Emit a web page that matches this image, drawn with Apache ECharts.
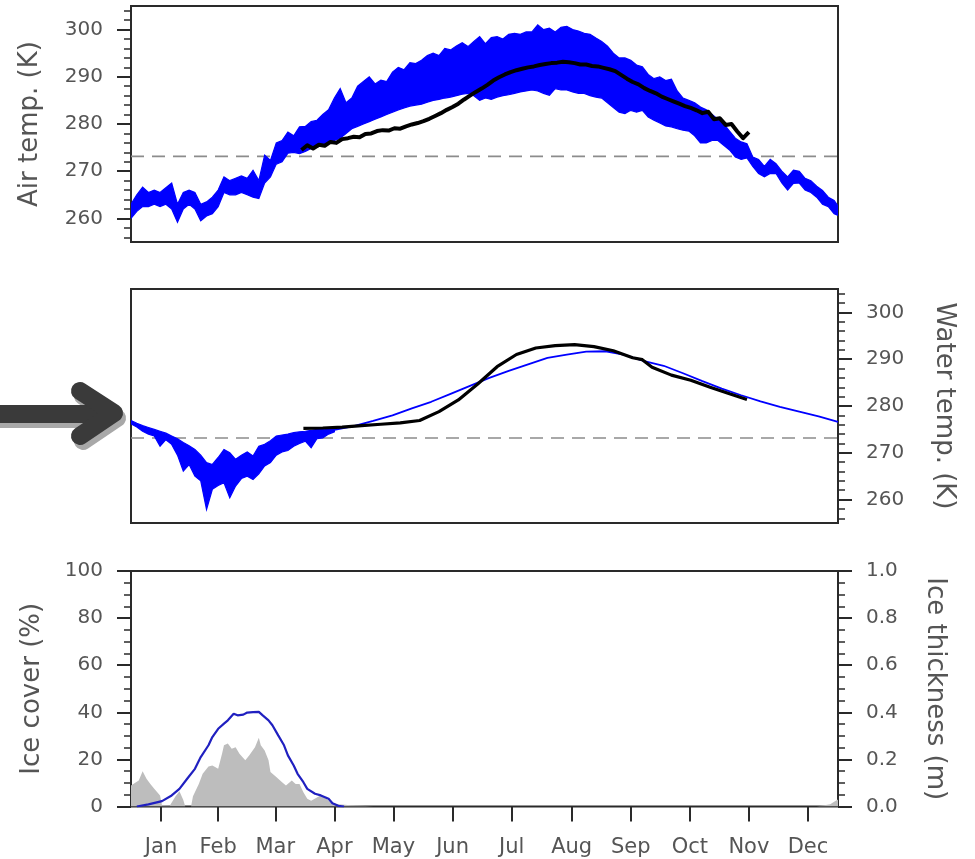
<!DOCTYPE html>
<html>
<head>
<meta charset="utf-8">
<script src="https://cdn.jsdelivr.net/npm/echarts@6/dist/echarts.min.js"></script>
<style>
  html, body { margin: 0; padding: 0; background: #fff; }
  #chart { width: 975px; height: 859px; }
</style>
</head>
<body>
<div id="chart"></div>
<script>
// ---- axis labels ----
const monthNames = ['Jan', 'Feb', 'Mar', 'Apr', 'May', 'Jun', 'Jul', 'Aug', 'Sep', 'Oct', 'Nov', 'Dec'];
const monthMidDays = [15.5, 45, 74.5, 105, 135.5, 166, 196.5, 227.5, 258, 288.5, 319, 349.5];
const tempTicks = [260, 270, 280, 290, 300];
const iceCoverTicks = [0, 20, 40, 60, 80, 100];
const iceThickTicks = [0, 0.2, 0.4, 0.6, 0.8, 1.0];
const freezingPoint = 273.15;

// ---- modelled air temperature: low / high of the sub-daily values, every 3 days from 1 Jan (K) ----
const airStep = 3;
const airModelLow = [
  260.0, 261.5, 262.5, 262.5, 263.0, 262.5, 263.0, 262.0, 259.2, 262.0,
  263.0, 262.0, 259.5, 260.5, 261.0, 262.5, 265.5, 265.0, 265.0, 265.5,
  265.0, 264.5, 264.2, 267.5, 268.8, 271.5, 272.0, 273.8, 274.0, 273.7,
  274.2, 274.8, 275.1, 275.5, 276.0, 276.5, 277.0, 278.0, 279.0, 279.5,
  280.0, 280.5, 281.0, 281.5, 282.0, 282.5, 283.0, 283.4, 283.8, 284.0,
  284.2, 284.6, 285.0, 285.2, 285.5, 285.7, 286.0, 286.3, 286.5, 286.0,
  285.0, 285.5, 285.2, 285.7, 286.0, 286.2, 286.5, 286.8, 287.0, 287.2,
  287.0, 286.5, 286.1, 287.5, 287.2, 287.2, 286.8, 286.5, 286.5, 286.0,
  285.7, 285.5, 284.5, 283.5, 282.5, 282.2, 282.9, 282.5, 282.9, 281.5,
  280.8, 280.2, 279.6, 279.4, 279.0, 278.7, 278.5, 277.5, 276.0, 276.0,
  276.5, 276.5, 275.5, 274.5, 273.0, 272.5, 272.8, 271.0, 269.5, 268.8,
  269.5, 269.5, 267.5, 266.0, 267.4, 267.5, 266.0, 265.5, 264.5, 263.0,
  262.5, 261.0, 260.5
];
const airModelHigh = [
  263.0, 265.0, 266.6, 265.5, 266.0, 265.5, 266.5, 267.5, 263.0, 265.5,
  266.0, 265.5, 263.0, 263.5, 264.5, 266.0, 268.8, 268.0, 268.5, 269.0,
  268.5, 270.2, 268.0, 273.4, 272.3, 276.0, 276.5, 278.3, 277.5, 279.4,
  279.5, 280.5, 280.8, 282.0, 283.0, 285.5, 287.5, 284.5, 285.5, 288.0,
  289.0, 290.0, 288.5, 289.3, 289.0, 291.0, 292.0, 291.5, 293.0, 292.8,
  293.5, 294.5, 295.0, 294.5, 296.0, 295.7, 296.5, 297.2, 296.4, 297.5,
  298.5, 297.0, 298.3, 298.5, 298.0, 299.0, 299.2, 299.0, 299.5, 299.5,
  301.0, 300.0, 300.3, 299.5, 300.5, 300.7, 300.0, 299.7, 299.2, 299.0,
  298.2, 297.5, 296.5, 295.0, 294.0, 294.0, 293.5, 292.5, 292.1, 290.5,
  289.6, 290.0, 289.2, 289.5, 287.0, 285.5, 285.0, 284.5, 283.6, 283.0,
  282.0, 281.0, 280.0, 278.5, 277.0, 276.2, 275.8, 273.0, 272.5, 271.0,
  272.5, 271.6, 270.0, 268.8, 270.2, 270.0, 268.5, 268.0, 266.8, 265.9,
  264.5, 263.8, 262.0
];

// ---- observed air temperature, every 3 days from day 88 (K) ----
const airObsStart = 88;
const airObs = [
  274.5, 275.5, 274.8, 275.6, 275.4, 276.2, 276.0, 276.8, 277.0, 277.3,
  277.2, 277.9, 278.0, 278.5, 278.7, 278.6, 279.1, 279.0, 279.5, 279.9,
  280.2, 280.6, 281.1, 281.7, 282.3, 283.0, 283.6, 284.3, 285.2, 286.0,
  286.8, 287.5, 288.3, 289.2, 289.9, 290.5, 291.0, 291.4, 291.7, 292.0,
  292.2, 292.5, 292.7, 292.9, 293.0, 293.2, 293.1, 292.9, 292.6, 292.6,
  292.3, 292.2, 291.9, 291.6, 291.2, 290.4, 289.6, 288.9, 288.4, 287.6,
  287.0, 286.5, 285.8, 285.3, 284.8, 284.3, 283.8, 283.4, 282.9, 282.3,
  282.6, 281.0, 281.2, 279.8, 280.0, 278.4, 277.0, 278.3
];

// ---- modelled lake surface temperature ----
// ice season: low / high every 3 days from 1 Jan (K)
const waterStep = 3;
const waterBandLow = [
  276.2, 275.5, 274.6, 274.0, 273.6, 271.4, 272.8, 271.8, 269.5, 266.1,
  267.5, 265.0, 264.0, 257.9, 262.2, 263.0, 263.6, 260.4, 262.9, 264.5,
  265.0, 264.3, 265.5, 267.2, 267.9, 269.5, 270.2, 270.5, 271.4, 272.0,
  272.5, 271.1, 273.0, 273.2, 274.0, 274.5
];
const waterBandHigh = [
  276.9, 276.3, 275.8, 275.4, 275.0, 274.6, 274.2, 273.6, 273.0, 272.2,
  271.5, 270.7, 269.5, 267.9, 267.5, 269.0, 270.7, 270.0, 268.6, 269.5,
  270.2, 269.3, 271.4, 271.8, 272.6, 273.6, 273.8, 274.0, 274.3, 274.5,
  274.6, 274.8, 275.0, 275.0, 275.2, 275.4
];
// open water season
const waterModelDays = [105, 115, 125, 135, 145, 155, 165, 175, 185, 195, 205, 215, 225, 235,
  245, 255, 265, 275, 285, 295, 305, 315, 325, 335, 345, 355, 365];
const waterModel = [274.9, 275.7, 276.8, 278.0, 279.5, 280.9, 282.6, 284.3, 286.0, 287.5, 288.9,
  290.3, 291.0, 291.6, 291.7, 290.9, 289.6, 288.6, 287.0, 285.3, 283.7, 282.3, 281.0, 279.8,
  278.8, 277.8, 276.6];

// ---- observed lake surface temperature (K) ----
const waterObsDays = [89, 99, 109, 119, 129, 139, 149, 159, 169, 179, 189, 199, 209, 219, 229,
  239, 249, 259, 264, 269, 279, 289, 299, 309, 318];
const waterObs = [275.2, 275.3, 275.5, 275.8, 276.1, 276.4, 276.9, 278.8, 281.3, 284.7, 288.4,
  291.0, 292.4, 292.9, 293.1, 292.7, 291.8, 290.3, 289.9, 288.3, 286.6, 285.5, 284.0, 282.6, 281.4];

// ---- ice ----
const iceCoverDays = [0, 4, 6, 8, 10, 12, 13, 15, 16, 17, 20, 23, 25, 27, 28, 31, 32, 35, 37, 40,
  42, 45, 47, 48, 50, 52, 54, 56, 59, 61, 64, 66, 67, 69, 71, 72, 75, 78, 80, 83,
  85, 87, 89, 91, 93, 96, 98, 101, 103, 107, 112, 119, 125, 354, 358, 361, 363, 365];
const iceCover = [8.9, 11, 15, 11.8, 9.6, 7.5, 8.2, 4.7, 0.5, 0, 0.3, 4.3, 6.5, 2.8, 0, 0, 4.3, 9.6, 13.9, 17,
  17.4, 16, 22.4, 26, 26.7, 24.5, 25.2, 22.4, 19.6, 21.7, 25.2, 29.2, 26, 23.8, 19.6, 14.6, 12.5, 10.3, 8.9, 11,
  9.6, 9.6, 6.1, 3.3, 2.4, 3.8, 4.8, 3.3, 1.7, 1, 0.6, 0.3, 0, 0, 0.5, 1, 2, 3];
const iceThickDays = [3, 9, 16, 21, 25, 29, 33, 36, 40, 42, 45, 48, 50, 53, 55, 58, 60, 63, 66,
  68, 71, 73, 76, 79, 81, 84, 86, 89, 91, 95, 98, 102, 104, 107, 110];
const iceThickness = [0, 0.009, 0.023, 0.047, 0.075, 0.118, 0.16, 0.21, 0.26, 0.295, 0.33, 0.352,
  0.366, 0.394, 0.387, 0.39, 0.399, 0.401, 0.402, 0.387, 0.366, 0.345, 0.302, 0.26, 0.217, 0.174,
  0.139, 0.103, 0.075, 0.054, 0.047, 0.033, 0.014, 0.003, 0];

// ---------------------------------------------------------------------------
const FONT = 'DejaVu Sans';
const TEXT = '#555';
const AXIS = '#2a2a2a';
const BLUE = '#0000ff';

function pairs(days, vals) { return days.map((d, i) => [d, vals[i]]); }
function stepped(start, step, vals) { return vals.map((v, i) => [start + i * step, v]); }
function range(a, b, s) { const out = []; for (let v = a; v <= b + 1e-9; v += s) out.push(+v.toFixed(4)); return out; }

// vertical axis pair (labelled major ticks + short minor ticks) for one panel
function valueAxes(grid, pos, min, max, major, minor, name, fmt, gap) {
  const base = {
    type: 'value', gridIndex: grid, position: pos, min: min, max: max,
    axisLine: { show: false, onZero: false }, splitLine: { show: false }
  };
  return [
    Object.assign({}, base, {
      axisTick: { show: true, customValues: major, length: 14, lineStyle: { color: AXIS, width: 2 } },
      axisLabel: { show: true, customValues: major, margin: 28, fontFamily: FONT, fontSize: 20, color: TEXT,
        formatter: fmt || (v => String(v)) },
      name: name, nameLocation: 'middle', nameRotate: pos === 'left' ? 90 : -90, nameGap: gap,
      nameTextStyle: { fontFamily: FONT, fontSize: 26, color: TEXT }
    }),
    Object.assign({}, base, {
      axisTick: { show: true, customValues: minor, length: 7, lineStyle: { color: AXIS, width: 1.5 } },
      axisLabel: { show: false }
    })
  ];
}

function band(xi, yi, step, low, high) {
  return {
    type: 'custom', xAxisIndex: xi, yAxisIndex: yi, clip: true, silent: true, z: 3,
    data: [[0, low[0]]],
    renderItem: function (params, api) {
      const pts = [];
      for (let i = 0; i < high.length; i++) pts.push(api.coord([i * step, high[i]]));
      for (let i = low.length - 1; i >= 0; i--) pts.push(api.coord([i * step, low[i]]));
      return { type: 'polygon', shape: { points: pts },
        style: { fill: BLUE, stroke: BLUE, lineWidth: 1.2, lineJoin: 'miter' } };
    }
  };
}

function freezingLine(xi, yi) {
  return {
    type: 'line', xAxisIndex: xi, yAxisIndex: yi, silent: true, z: 1,
    data: [[0, freezingPoint], [365, freezingPoint]], symbol: 'none',
    lineStyle: { color: '#8c8c8c', width: 1.6, type: [13, 8] }
  };
}

const grids = [
  { left: 131, top: 6, width: 707, height: 236 },
  { left: 131, top: 289, width: 707, height: 234 },
  { left: 131, top: 571, width: 707, height: 235.5 }
].map(g => Object.assign(g, { show: true, borderColor: AXIS, borderWidth: 2, containLabel: false }));

const hiddenX = i => ({ type: 'value', gridIndex: i, min: 0, max: 365, show: false,
  axisLine: { onZero: false } });

const yAxes = [].concat(
  valueAxes(0, 'left', 255, 305, tempTicks, range(256, 304, 2), 'Air temp. (K)', null, 88),
  valueAxes(1, 'right', 255, 305, tempTicks, range(256, 304, 2), 'Water temp. (K)', null, 93),
  valueAxes(2, 'left', 0, 100, iceCoverTicks, range(0, 100, 5), 'Ice cover (%)', null, 86),
  valueAxes(2, 'right', 0, 1, iceThickTicks, range(0, 1, 0.05), 'Ice thickness (m)', v => v.toFixed(1), 84)
);

const arrowShape = (dx, dy, color) => ({
  type: 'group', x: dx, y: dy, silent: true,
  children: [
    { type: 'line', shape: { x1: -5, y1: 414, x2: 104, y2: 414 },
      style: { stroke: color, lineWidth: 18, lineCap: 'butt' } },
    { type: 'polyline', shape: { points: [[80, 391], [114, 413], [80, 436]] },
      style: { stroke: color, lineWidth: 18, lineJoin: 'round', lineCap: 'round', fill: null } }
  ]
});

const option = {
  animation: false,
  backgroundColor: '#fff',
  grid: grids,
  xAxis: [
    hiddenX(0), hiddenX(1),
    {
      type: 'value', gridIndex: 2, min: 0, max: 365, position: 'bottom',
      axisLine: { show: false, onZero: false }, splitLine: { show: false },
      axisTick: { show: true, customValues: monthMidDays, length: 15, lineStyle: { color: AXIS, width: 2 } },
      axisLabel: { show: true, customValues: monthMidDays, margin: 31, fontFamily: FONT, fontSize: 21, color: TEXT,
        formatter: v => monthNames[monthMidDays.indexOf(v)] || '' }
    }
  ],
  yAxis: yAxes,
  series: [
    // air temperature panel
    freezingLine(0, 0),
    band(0, 0, airStep, airModelLow, airModelHigh),
    {
      type: 'line', xAxisIndex: 0, yAxisIndex: 0, z: 4, silent: true, symbol: 'none',
      data: stepped(airObsStart, airStep, airObs),
      lineStyle: { color: '#000', width: 4, join: 'round' }
    },
    // lake surface temperature panel
    freezingLine(1, 2),
    band(1, 2, waterStep, waterBandLow, waterBandHigh),
    {
      type: 'line', xAxisIndex: 1, yAxisIndex: 2, z: 3, silent: true, symbol: 'none',
      data: pairs(waterModelDays, waterModel),
      lineStyle: { color: BLUE, width: 1.8 }
    },
    {
      type: 'line', xAxisIndex: 1, yAxisIndex: 2, z: 4, silent: true, symbol: 'none',
      data: pairs(waterObsDays, waterObs),
      lineStyle: { color: '#000', width: 3.2 }
    },
    // ice panel
    {
      type: 'line', xAxisIndex: 2, yAxisIndex: 4, z: 2, silent: true, symbol: 'none',
      data: pairs(iceCoverDays, iceCover),
      lineStyle: { width: 0 }, areaStyle: { color: '#bdbdbd', opacity: 1 }
    },
    {
      type: 'line', xAxisIndex: 2, yAxisIndex: 6, z: 3, silent: true, symbol: 'none',
      data: pairs(iceThickDays, iceThickness),
      lineStyle: { color: '#2020c0', width: 2.2 }
    }
  ],
  graphic: [arrowShape(3, 5, '#a8a8a8'), arrowShape(0, 0, '#3a3a3a')]
};

const chart = echarts.init(document.getElementById('chart'), null, { renderer: 'canvas' });
chart.setOption(option);
</script>
</body>
</html>
